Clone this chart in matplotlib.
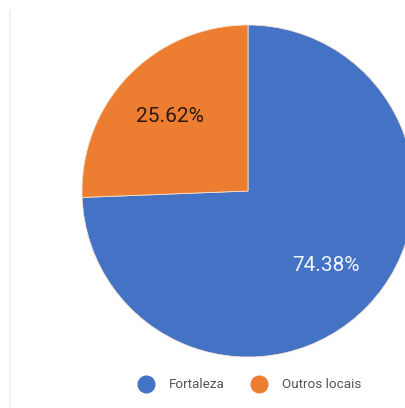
import matplotlib
matplotlib.use("Agg")
import matplotlib.pyplot as plt
from matplotlib.lines import Line2D

categories = ["Fortaleza", "Outros locais"]
values = [74.38, 25.62]
colors = ["#4472C4", "#ED7D31"]

plt.rcParams['font.family'] = ['Roboto', 'DejaVu Sans']

W, H = 405, 408
fig = plt.figure(figsize=(W / 100, H / 100), dpi=100)
fig.patch.set_facecolor("white")
ax = fig.add_axes([0, 0, 1, 1])

cx, cy, r = 248, H - 191, 166
wedges, texts, autotexts = ax.pie(
    values, colors=colors, startangle=90, counterclock=False,
    center=(cx, cy), radius=r, autopct='%.2f%%', pctdistance=0.65,
    wedgeprops=dict(edgecolor="#f4e0d0", linewidth=0.6),
    textprops=dict(fontsize=15),
)
autotexts[0].set_color("#f2f4fa")
autotexts[1].set_color("#2a1a10")

ax.set_xlim(0, W)
ax.set_ylim(0, H)
ax.set_axis_off()

# faint screenshot edge line
ax.plot([10, 10], [0, H - 10], color="#f0f0f0", lw=1.2)

handles = [Line2D([0], [0], marker='o', linestyle='', markersize=12,
                  markerfacecolor=c, markeredgecolor=c) for c in colors]
fig.legend(handles, categories, loc='center', bbox_to_anchor=(247 / W, (H - 385) / H),
           ncol=2, frameon=False, fontsize=9.7, labelcolor="#555555",
           handletextpad=0.7, columnspacing=1.5)

fig.savefig("out.png", dpi=100)
